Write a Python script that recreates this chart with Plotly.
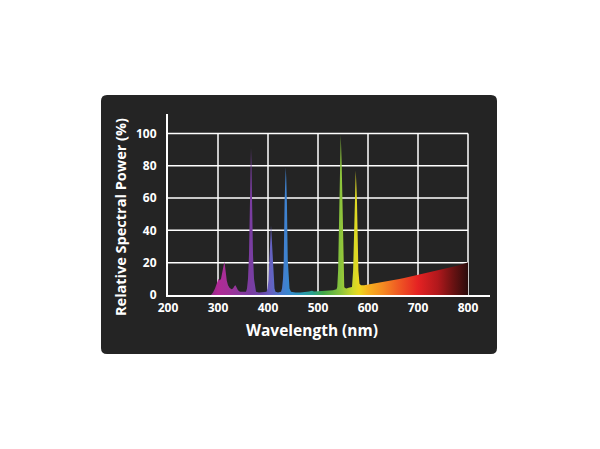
import plotly.graph_objects as go

# ---------------- data ----------------
WAVELENGTH_NM = [286, 290, 294, 298, 301, 303.5, 306, 308.5, 311, 312.7, 314, 315.5, 317.5, 320,
                 323, 327, 330, 333, 335, 337.5, 340, 344, 350,
                 356, 358, 360, 362, 364, 365.2, 366, 366.8, 368, 370, 372, 374, 376,
                 382, 390, 397, 399, 401, 402.5, 404.5, 406, 407.5, 409.5, 411, 413, 415,
                 420, 426, 428, 430, 431.5, 433.2, 434.5, 435.5, 436.5, 437.8, 439.5, 441, 443, 446,
                 455, 465, 475, 482, 488, 492, 500, 510, 520, 530,
                 537, 538.5, 540.2, 541.5, 543.5, 545.5, 547.5, 549.5, 550.8, 552.5, 554, 557,
                 561, 568, 570.2, 573.2, 575.5, 577.8, 580.8, 583, 586,
                 592, 600, 610, 620, 630, 640, 650, 660, 670, 680, 690, 700, 705, 710, 720,
                 730, 740, 750, 760, 770, 780, 790, 798, 800]
POWER_PCT = [0, 1.5, 4, 7, 10, 9, 10, 14, 19, 20.5, 18, 13, 9, 6,
             4.5, 3.5, 4, 5.5, 6, 4.5, 3, 2, 1.8,
             2, 4, 10, 25, 58, 82, 91, 82, 58, 25, 10, 4, 2,
             1.6, 1.6, 2, 4, 9, 20, 35, 43, 35, 20, 9, 4, 2,
             1.6, 2, 4, 10, 22, 58, 72, 79, 72, 58, 22, 10, 4, 2,
             1.5, 1.6, 1.8, 2.2, 2.6, 2.2, 2.3, 2.5, 2.6, 3,
             3.5, 5, 15, 40, 79, 99, 79, 40, 15, 5, 4.3, 4,
             4.5, 5, 15, 60, 77, 60, 15, 7, 6,
             6, 6.5, 6.9, 7.4, 8, 8.7, 9.2, 9.8, 10.3, 11, 11.7, 12.3, 12.9, 13.1, 13.6,
             14.4, 15.2, 16, 16.8, 17.5, 18.3, 19, 19.9, 20.2]

X_TICKS = [200, 300, 400, 500, 600, 700, 800]
Y_TICKS = [0, 20, 40, 60, 80, 100]

COLOR_STOPS_NM = [285, 300, 320, 345, 365, 390, 405, 425, 440, 465, 490, 510, 546, 570,
                  582, 600, 630, 660, 700, 740, 770, 800]
COLOR_STOPS = ["#8e2a8a", "#b02a96", "#a33098", "#8a3a9e", "#7a3ca0", "#6a4aac", "#6660c0",
               "#4a78cc", "#3a86d0", "#2a98b8", "#2aa08a", "#40a848", "#8cc43c", "#cfd82a",
               "#ecd81e", "#f6b21f", "#f58a22", "#ef5a23", "#e52223", "#b0181c", "#6a1212",
               "#2a0c0c"]

X_TITLE = "Wavelength (nm)"
Y_TITLE = "Relative Spectral Power (%)"

# ---------------- layout geometry ----------------
W, H = 600, 449
OFF = 8  # page body margin of the html page
# wanted screen positions of the plot area: left 168, right 490, top 114, bottom 295
ML = 168 - OFF
MT = 114 - OFF
MR = W + OFF - 490
MB = H + OFF - 295
PW, PH = W - ML - MR, H - MT - MB
X_RANGE = [200, 844]
Y_RANGE = [0, 112]
PANEL = "#242424"
FONT = "Open Sans"


def px_to_paper(px, py):
    """screen pixel -> paper coordinate"""
    return (px - OFF - ML) / PW, (H - MB - (py - OFF)) / PH


lo, hi = COLOR_STOPS_NM[0], COLOR_STOPS_NM[-1]
colorscale = [[(nm - lo) / (hi - lo), c] for nm, c in zip(COLOR_STOPS_NM, COLOR_STOPS)]

fig = go.Figure()
fig.add_trace(go.Scatter(
    x=WAVELENGTH_NM, y=POWER_PCT, mode="lines", fill="tozeroy",
    line=dict(width=0, color="rgba(0,0,0,0)"),
    fillgradient=dict(type="horizontal", colorscale=colorscale, start=lo, stop=hi),
    hoverinfo="skip", showlegend=False,
))

shapes = []
x0p, y0p, x1p, y1p, r = 101, 95, 497, 354, 6


def P(px, py):
    a, b = px_to_paper(px, py)
    return f"{a:.5f},{b:.5f}"


path = (f"M {P(x0p + r, y0p)} L {P(x1p - r, y0p)} Q {P(x1p, y0p)} {P(x1p, y0p + r)} "
        f"L {P(x1p, y1p - r)} Q {P(x1p, y1p)} {P(x1p - r, y1p)} "
        f"L {P(x0p + r, y1p)} Q {P(x0p, y1p)} {P(x0p, y1p - r)} "
        f"L {P(x0p, y0p + r)} Q {P(x0p, y0p)} {P(x0p + r, y0p)} Z")
shapes.append(dict(type="path", xref="paper", yref="paper", path=path,
                   fillcolor=PANEL, line=dict(width=0), layer="below"))
for v in X_TICKS[1:]:
    shapes.append(dict(type="line", xref="x", yref="y", x0=v, x1=v, y0=Y_TICKS[0], y1=Y_TICKS[-1],
                       line=dict(color="white", width=1.5), layer="below"))
for v in Y_TICKS[1:]:
    shapes.append(dict(type="line", xref="x", yref="y", x0=X_TICKS[0], x1=X_TICKS[-1], y0=v, y1=v,
                       line=dict(color="white", width=1.5), layer="below"))

tickfont = dict(family=FONT, size=12, color="white", weight="bold")
fig.update_layout(
    width=W, height=H, autosize=False,
    margin=dict(l=ML, r=MR, t=MT, b=MB, pad=0),
    paper_bgcolor="white", plot_bgcolor="rgba(0,0,0,0)",
    shapes=shapes,
    xaxis=dict(range=X_RANGE, tickvals=X_TICKS, showgrid=False, zeroline=False,
               showline=True, linecolor="white", linewidth=2, ticks="",
               tickfont=tickfont, ticklabelstandoff=1, fixedrange=True),
    yaxis=dict(range=Y_RANGE, tickvals=Y_TICKS, showgrid=False, zeroline=False,
               showline=True, linecolor="white", linewidth=2, ticks="",
               tickfont=tickfont, ticklabelstandoff=7, fixedrange=True),
    annotations=[
        dict(text=X_TITLE, xref="paper", yref="paper",
             x=px_to_paper(312, 330)[0], y=px_to_paper(312, 330)[1],
             showarrow=False, xanchor="center", yanchor="middle",
             font=dict(family=FONT, size=15.5, color="white", weight="bold")),
        dict(text=Y_TITLE, xref="paper", yref="paper", textangle=-90,
             x=px_to_paper(120, 217)[0], y=px_to_paper(120, 217)[1],
             showarrow=False, xanchor="center", yanchor="middle",
             font=dict(family=FONT, size=14.5, color="white", weight="bold")),
    ],
)

fig.write_html("out.html")
